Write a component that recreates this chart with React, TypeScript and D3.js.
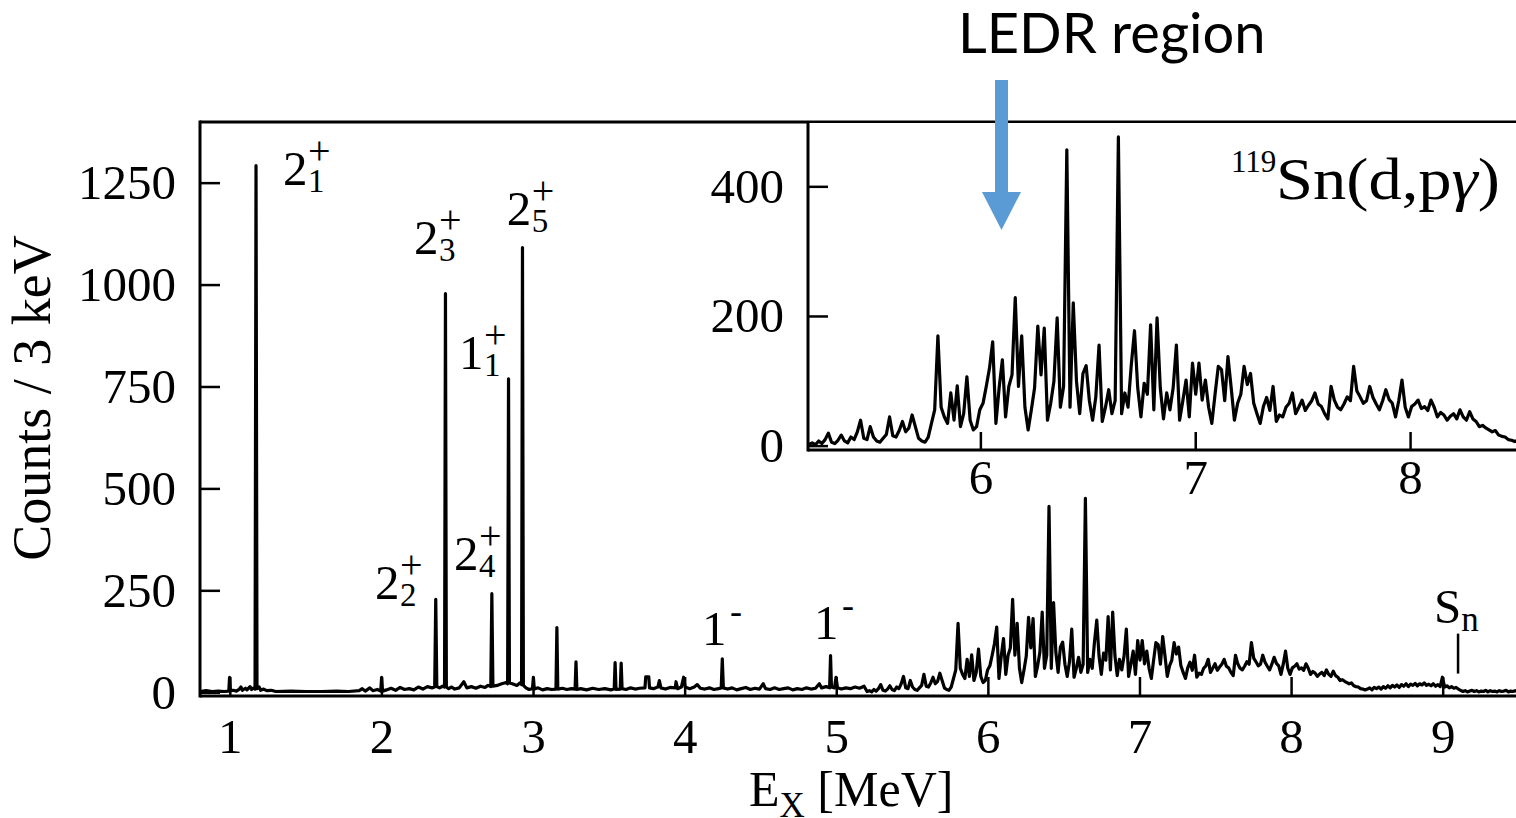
import React from "react";
import * as d3 from "d3";

const W = 1516;
const H = 818;

// ---- axis ticks ----
const mainXTicks = [1, 2, 3, 4, 5, 6, 7, 8, 9];
const mainYTicks = [0, 250, 500, 750, 1000, 1250];
const insetXTicks = [6, 7, 8];
const insetYTicks = [0, 200, 400];

// ---- low-energy part of the spectrum (hand-read points): energy [MeV], counts ----
const lowE = [
  0.8, 0.84, 0.88, 0.92, 0.96, 0.99, 0.995, 1.0, 1.02, 1.04, 1.06, 1.07, 1.08, 1.1, 1.11, 1.13, 1.14, 1.155, 1.163,
  1.1695, 1.176, 1.19, 1.2, 1.22, 1.24, 1.27, 1.3, 1.4, 1.5, 1.6, 1.7, 1.78, 1.85, 1.87, 1.89, 1.92, 1.94, 1.97,
  1.992, 1.998, 2.004, 2.03, 2.06, 2.09, 2.12, 2.15, 2.18, 2.21, 2.24, 2.27, 2.3, 2.33, 2.348, 2.355, 2.362, 2.38,
  2.4, 2.413, 2.419, 2.425, 2.44, 2.46, 2.48, 2.51, 2.54, 2.56, 2.59, 2.62, 2.65, 2.68, 2.7, 2.718, 2.725, 2.732,
  2.76, 2.79, 2.82, 2.829, 2.835, 2.841, 2.86, 2.89, 2.91, 2.921, 2.927, 2.933, 2.95, 2.97, 2.993, 2.999, 3.005,
  3.03, 3.06, 3.09, 3.12, 3.148, 3.154, 3.16, 3.19, 3.22, 3.25, 3.274, 3.28, 3.286, 3.31, 3.35, 3.39, 3.43, 3.47,
  3.51, 3.532, 3.538, 3.544, 3.572, 3.578, 3.584, 3.61, 3.64, 3.67, 3.7, 3.735, 3.74, 3.76, 3.765, 3.79, 3.82,
  3.83, 3.84, 3.87, 3.9, 3.935, 3.94, 3.95, 3.975, 3.99, 4.0, 4.03, 4.06, 4.08, 4.1, 4.13, 4.16, 4.19, 4.22, 4.238,
  4.245, 4.252, 4.28, 4.31, 4.34, 4.37, 4.4, 4.43, 4.46, 4.49, 4.515, 4.53, 4.56, 4.59, 4.62, 4.65, 4.68, 4.71,
  4.74, 4.77, 4.8, 4.83, 4.86, 4.885, 4.9, 4.93, 4.953, 4.959, 4.965, 4.985, 4.995, 5.005, 5.03, 5.06, 5.09,
  5.12, 5.15, 5.18,
];
const lowCounts = [
  3, 5, 3, 4, 3, 4, 38, 5, 6, 4, 9, 14, 6, 11, 7, 15, 8, 12, 9,
  1293, 10, 14, 6, 9, 5, 6, 3, 4, 3, 3, 4, 3, 5, 10, 4, 12, 5, 8,
  4, 38, 4, 7, 11, 6, 13, 8, 10, 7, 14, 9, 15, 12, 14, 229, 15, 12,
  16, 14, 979, 14, 10, 14, 9, 12, 27, 12, 15, 11, 16, 13, 18, 15, 243, 16,
  18, 22, 25, 22, 770, 24, 22, 18, 24, 20, 1092, 18, 12, 8, 10, 38, 9,
  12, 7, 10, 8, 9, 160, 9, 11, 8, 10, 9, 76, 8, 10, 7, 11, 8, 10,
  7, 9, 74, 8, 9, 73, 10, 8, 12, 9, 11, 12, 39, 39, 12, 10, 14,
  30, 12, 9, 13, 12, 27, 10, 14, 38, 14, 10, 14, 20, 11, 9, 12, 8, 10, 12,
  83, 12, 9, 12, 7, 10, 13, 8, 11, 9, 22, 10, 8, 12, 8, 10, 12, 7,
  10, 8, 12, 9, 11, 22, 12, 15, 12, 91, 14, 12, 38, 12, 9, 12, 10,
  14, 11, 16,
];

// ---- high-energy part: 15 keV bins starting at 5.2 MeV (hand-read counts) ----
const denseStart = 5.2;
const denseStep = 0.015;
const denseCounts = [
  3, 5, 2, 8, 4, 10, 20, 6, 4, 9, 17, 8, 5, 14, 10, 22, 40, 12, 10, 30,
  14, 8, 6, 12, 18, 45, 16, 14, 24, 38, 22, 28, 48, 30, 12, 8, 6, 14, 35, 56,
  170, 60, 45, 35, 82, 40, 93, 30, 50, 107, 40, 25, 30, 56,
  66, 92, 120, 161, 35, 90, 133, 45, 92, 110, 229, 92, 170, 60, 25, 56, 90, 185, 110, 182, 40, 66, 100, 198, 60, 92, 457,
  60, 221, 100, 50, 112, 124, 70, 40, 76, 156, 38, 60, 87, 50, 70, 477,
  50, 82, 60, 125, 178, 90, 45, 97, 80, 187, 56, 198, 90, 42, 82,
  56, 90, 156, 40, 70, 102, 45, 128, 80,
  128, 71, 102, 60, 35, 80, 123, 118, 70, 138,
  90, 40, 66, 80, 123, 95, 112, 66, 50, 35,
  61, 75, 55, 92, 38, 48, 45, 60, 66, 82,
  50, 60, 71, 55, 63, 70, 82, 65, 61, 50,
  42, 92, 71, 60, 56, 65, 76, 70, 123, 85,
  76, 66, 70, 92, 75, 65, 56, 70, 87, 72,
  66, 45, 70, 102, 60, 45, 61, 65, 71, 58,
  61, 55, 71, 60, 45, 52, 48, 40, 46, 50,
  42, 56, 45, 40, 53, 42, 38, 30, 32, 28,
  25, 22, 24, 17, 15, 14, 10, 9, 7,
  9, 12, 7, 13, 10, 14, 9, 15, 11, 17,
  12, 18, 14, 19, 13, 20, 16, 22, 15, 21,
  18, 23, 17, 22, 19, 24, 18, 21, 17, 22,
  16, 20, 15,
  38,
  14, 17, 12, 15, 11, 13, 9,
  6, 3, 5, 2, 4, 6, 3, 5, 2, 4, 3, 6, 2, 5, 3, 4, 2, 5, 3, 4, 6, 2, 4, 3, 5, 3,
];

// ---- state labels (anchor in data coordinates: energy, counts) ----
const labelE = [1.3475, 1.954, 2.2116, 2.4755, 2.5084, 2.823, 4.111, 4.85];
const labelC = [1246, 230, 1077, 302, 795, 1148, 118, 132];
const labelBase = ["2", "2", "2", "2", "1", "2", "1", "1"];
const labelSub = ["1", "2", "3", "4", "1", "5", "", ""];
const labelSup = ["+", "+", "+", "+", "+", "+", "-", "-"];

// neutron separation energy marker
const snE = 9.098;
const snRange = [47, 145];

const SERIF = "'Liberation Serif', 'Times New Roman', serif";

export default function App() {
  const x = d3.scaleLinear().domain([0.8, 9.5]).range([200, 1519]);
  const y = d3.scaleLinear().domain([-8, 1400]).range([696, 122]);
  const xi = d3.scaleLinear().domain([5.2, 8.5]).range([809, 1518]);
  const yi = d3.scaleLinear().domain([-6, 500]).range([450, 122]);

  const pts: [number, number][] = [
    ...lowE.map((e, i) => [e, lowCounts[i]] as [number, number]),
    ...denseCounts.map((c, i) => [denseStart + i * denseStep, c] as [number, number]),
  ];
  const mainPath = d3
    .line<[number, number]>()
    .x((d) => x(d[0]))
    .y((d) => y(d[1]))(pts) as string;
  const insetPts = pts.filter((d) => d[0] >= 5.19 && d[0] <= 8.52);
  const insetPath = d3
    .line<[number, number]>()
    .x((d) => xi(d[0]))
    .y((d) => yi(d[1]))(insetPts) as string;

  return (
    <svg
      width={W}
      height={H}
      style={{ position: "absolute", left: 0, top: 0, display: "block", background: "#fff" }}
      fontFamily={SERIF}
    >
      <defs>
        <clipPath id="mainClip">
          <rect x={200} y={122} width={1320} height={574} />
        </clipPath>
        <clipPath id="insetClip">
          <rect x={808} y={122} width={712} height={328} />
        </clipPath>
      </defs>
      <rect x={0} y={0} width={W} height={H} fill="#fff" />

      {/* main spectrum */}
      <path d={mainPath} fill="none" stroke="#000" strokeWidth={3.2} strokeLinejoin="round" clipPath="url(#mainClip)" />

      {/* main axes frame */}
      <line x1={200} x2={1516} y1={122} y2={122} stroke="#000" strokeWidth={3} />
      <line x1={200} x2={200} y1={120.5} y2={697.5} stroke="#000" strokeWidth={3} />
      <line x1={200} x2={1516} y1={696} y2={696} stroke="#000" strokeWidth={3} />

      {mainYTicks.map((t) => (
        <g key={"my" + t}>
          <line x1={200} x2={220} y1={y(t)} y2={y(t)} stroke="#000" strokeWidth={2.5} />
          <text x={176} y={y(t) + 16} textAnchor="end" fontSize={49}>
            {t}
          </text>
        </g>
      ))}
      {mainXTicks.map((t) => (
        <g key={"mx" + t}>
          <line x1={x(t)} x2={x(t)} y1={696} y2={677} stroke="#000" strokeWidth={2.5} />
          <text x={x(t)} y={753} textAnchor="middle" fontSize={49}>
            {t}
          </text>
        </g>
      ))}

      {/* axis titles */}
      <text transform="translate(50,398) rotate(-90)" textAnchor="middle" fontSize={54}>
        Counts / 3 keV
      </text>
      <text x={749} y={806} fontSize={50}>
        E
        <tspan dy={11} fontSize={35}>
          X
        </tspan>
        <tspan dy={-11} fontSize={50}>
          {" [MeV]"}
        </tspan>
      </text>

      {/* state labels */}
      {labelE.map((e, i) => {
        const lx = x(e);
        const ly = y(labelC[i]);
        return (
          <g key={"lab" + i}>
            <text x={lx} y={ly} fontSize={49}>
              {labelBase[i]}
            </text>
            {labelSub[i] && (
              <text x={lx + 25} y={ly + 7} fontSize={33}>
                {labelSub[i]}
              </text>
            )}
            {labelSup[i] === "+" ? (
              <text x={lx + 25} y={ly - 21} fontSize={40}>
                +
              </text>
            ) : (
              <text x={lx + 28} y={ly - 22} fontSize={36}>
                -
              </text>
            )}
          </g>
        );
      })}

      {/* S_n marker */}
      <line x1={x(snE)} x2={x(snE)} y1={y(snRange[0])} y2={y(snRange[1])} stroke="#000" strokeWidth={2.5} />
      <text x={x(snE) - 24} y={623} fontSize={49}>
        S
        <tspan dy={8} fontSize={35}>
          n
        </tspan>
      </text>

      {/* inset */}
      <rect x={808} y={123} width={712} height={327} fill="#fff" />
      <path d={insetPath} fill="none" stroke="#000" strokeWidth={3.2} strokeLinejoin="round" clipPath="url(#insetClip)" />
      <line x1={808} x2={808} y1={122} y2={451.5} stroke="#000" strokeWidth={3} />
      <line x1={808} x2={1516} y1={450} y2={450} stroke="#000" strokeWidth={3} />
      {insetYTicks.map((t) => (
        <g key={"iy" + t}>
          <line x1={808} x2={828} y1={yi(t)} y2={yi(t)} stroke="#000" strokeWidth={2.5} />
          <text x={784} y={yi(t) + 16} textAnchor="end" fontSize={49}>
            {t}
          </text>
        </g>
      ))}
      {insetXTicks.map((t) => (
        <g key={"ix" + t}>
          <line x1={xi(t)} x2={xi(t)} y1={450} y2={432} stroke="#000" strokeWidth={2.5} />
          <text x={xi(t)} y={494} textAnchor="middle" fontSize={49}>
            {t}
          </text>
        </g>
      ))}
      <text x={1231} y={172} fontSize={31}>
        119
      </text>
      <text x={1276} y={199} fontSize={60} textLength={224} lengthAdjust="spacingAndGlyphs">
        Sn(d,p<tspan fontStyle="italic">γ</tspan>)
      </text>

      {/* LEDR annotation */}
      <text x={958} y={53} fontSize={56} fontFamily="Lato, 'Open Sans', sans-serif">
        LEDR region
      </text>
      <rect x={995} y={80} width={13} height={113} fill="#5B9BD5" />
      <polygon points="982,192 1021,192 1001.5,230" fill="#5B9BD5" />
    </svg>
  );
}
